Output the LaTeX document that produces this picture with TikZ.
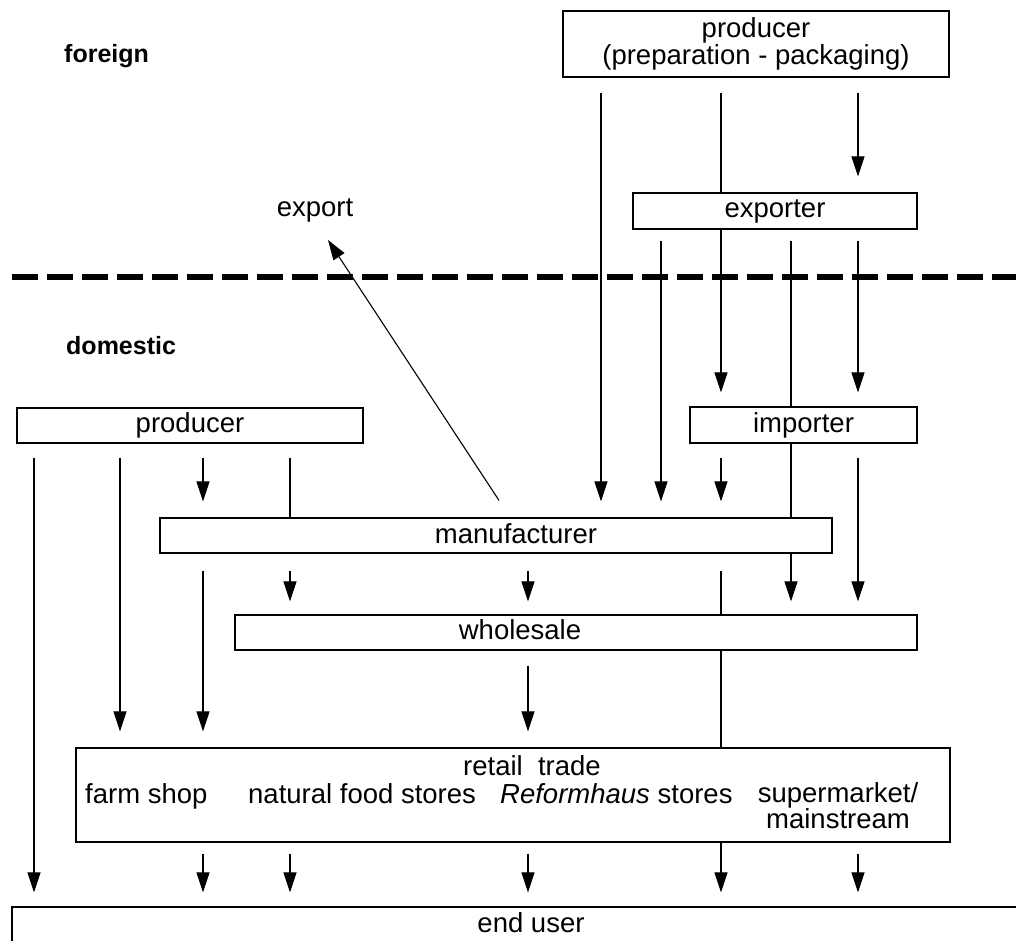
\documentclass[tikz,border=0pt]{standalone}
\usepackage{fontspec}
\setmainfont{Liberation Sans}
\usepackage{tikz}
\usetikzlibrary{arrows.meta,positioning,calc}

\begin{document}
\begin{tikzpicture}[
  x=1pt,y=-1pt,
  box/.style={
    draw,line width=1.2pt,inner sep=0pt,align=center,
    font=\fontsize{27.5}{25}\selectfont
  },
  txt/.style={inner sep=0pt,font=\fontsize{27.5}{26}\selectfont},
  region/.style={inner sep=0pt,font=\fontsize{25}{25}\selectfont\bfseries},
  arr/.style={-{Triangle[length=20pt,width=13pt]},line width=1.1pt},
  ln/.style={line width=1.1pt},
  border/.style={line width=5.5pt,dash pattern=on 26pt off 9pt}
]
  \useasboundingbox (0,0) rectangle (1016,940);

  \node[box,minimum width=386pt,minimum height=66pt] (prodF) at (756,44)
    {producer\\(preparation - packaging)};
  \node[box,minimum width=284pt,minimum height=36pt] (exporter) at (775,211) {exporter};
  \node[box,minimum width=227pt,minimum height=36pt] (importer) at (803.5,425) {importer};
  \node[box,minimum width=346pt,minimum height=35pt] (prodD) at (190,425.5) {producer};
  \node[box,minimum width=672pt,minimum height=35pt] (manu) at (496,535.5) {};
  \node[box,minimum width=682pt,minimum height=35pt] (whole) at (576,632.5) {};
  \node[box,minimum width=874pt,minimum height=94pt] (retail) at (513,795) {};
  \node[box,minimum width=1038pt,minimum height=38pt] (endu) at (531,926) {};

  \node[txt,anchor=base] (manuT) at (516,543) {manufacturer};
  \node[txt,anchor=base] (wholeT) at (520,639) {wholesale};
  \node[txt,anchor=base] (retailT) at (532,775) {retail\ \ trade};
  \node[txt,anchor=base west] (farm) at (85,803) {farm shop};
  \node[txt,anchor=base west] (natural) at (248,803) {natural food stores};
  \node[txt,anchor=base west] (reform) at (500,803) {\textit{Reformhaus} stores};
  \node[txt,anchor=south,align=center] (superm) at (838,829)
    {supermarket/\\mainstream};
  \node[txt,anchor=base] (enduT) at (531,932) {end user};
  \node[txt,anchor=base] (export) at (315,216) {export};
  \node[region,anchor=base west] (foreign) at (64,62) {foreign};
  \node[region,anchor=base west] (domestic) at (66,354) {domestic};

  % border between foreign and domestic
  \draw[border] (12,277) -- (1030,277);

  \foreach \n/\x in {A/34,B/120,C/203,D/290,E/528,F/601,G/661,H/721,I/791,J/858,X/499}
    \coordinate (x\n) at (\x,0);
  \coordinate (expTip) at (328,240);

  % foreign producer and exporter
  \draw[arr] ($(prodF.south -| xF)+(0,15)$) -- ($(manu.north -| xF)+(0,-16)$);
  \draw[ln] ($(prodF.south -| xH)+(0,15)$) -- (exporter.north -| xH);
  \draw[arr] ($(prodF.south -| xJ)+(0,15)$) -- ($(exporter.north -| xJ)+(0,-16)$);
  \draw[arr] ($(exporter.south -| xG)+(0,11)$) -- ($(manu.north -| xG)+(0,-16)$);
  \draw[arr] (exporter.south -| xH) -- ($(importer.north -| xH)+(0,-14)$);
  \draw[ln] ($(exporter.south -| xI)+(0,11)$) -- (importer.north -| xI);
  \draw[arr] ($(exporter.south -| xJ)+(0,11)$) -- ($(importer.north -| xJ)+(0,-14)$);

  % importer
  \draw[ln] (importer.south -| xI) -- (manu.north -| xI);
  \draw[arr] (manu.south -| xI) -- ($(whole.north -| xI)+(0,-13)$);
  \draw[arr] ($(importer.south -| xH)+(0,14)$) -- ($(manu.north -| xH)+(0,-16)$);
  \draw[arr] ($(importer.south -| xJ)+(0,14)$) -- ($(whole.north -| xJ)+(0,-13)$);

  % domestic producer
  \draw[arr] ($(prodD.south -| xA)+(0,14)$) -- ($(endu.north -| xA)+(0,-14)$);
  \draw[arr] ($(prodD.south -| xB)+(0,14)$) -- ($(retail.north -| xB)+(0,-16)$);
  \draw[arr] ($(prodD.south -| xC)+(0,14)$) -- ($(manu.north -| xC)+(0,-16)$);
  \draw[ln] ($(prodD.south -| xD)+(0,14)$) -- (manu.north -| xD);

  % manufacturer
  \draw[arr] ($(manu.north -| xX)+(0,-17)$) -- (expTip);
  \foreach \c in {xD,xE}
    \draw[arr] ($(manu.south -| \c)+(0,17)$) -- ($(whole.north -| \c)+(0,-13)$);
  \draw[arr] ($(manu.south -| xC)+(0,17)$) -- ($(retail.north -| xC)+(0,-16)$);
  \draw[ln] ($(manu.south -| xH)+(0,17)$) -- (whole.north -| xH);

  % wholesale and retail
  \draw[arr] ($(whole.south -| xE)+(0,15)$) -- ($(retail.north -| xE)+(0,-16)$);
  \draw[ln] (whole.south -| xH) -- (retail.north -| xH);
  \foreach \c in {xC,xD,xE,xJ}
    \draw[arr] ($(retail.south -| \c)+(0,11)$) -- ($(endu.north -| \c)+(0,-14)$);
  \draw[arr] (retail.south -| xH) -- ($(endu.north -| xH)+(0,-14)$);
\end{tikzpicture}
\end{document}
